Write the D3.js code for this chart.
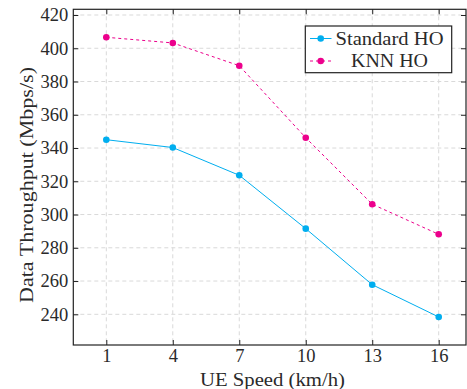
<!DOCTYPE html>
<html>
<head>
<meta charset="utf-8">
<script src="https://cdn.jsdelivr.net/npm/d3@7"></script>
<style>
    body { margin: 0; background: #fff; }
    svg text { font-family: "Liberation Serif", "DejaVu Serif", serif !important; fill: #2a2a2a; }
</style>
</head>
<body>
<div id="chart"></div>
<script>
var speeds = [1, 4, 7, 10, 13, 16];
var standardHO = [345, 340.3, 323.6, 291.5, 257.8, 238.4];
var knnHO = [406.6, 403.2, 389.5, 346.2, 306.2, 288.1];
var yTicks = [240, 260, 280, 300, 320, 340, 360, 380, 400, 420];
var seriesNames = ["Standard HO", "KNN HO"];

function init ()
{
    var w = 467;
    var h = 389;
    var left = 73.3, right = 466, top = 9.3, bottom = 345;
    var fontSize = 18.5;
    var serif = "'Liberation Serif', 'DejaVu Serif', serif";
    var cyan = "#00AEEF";
    var magenta = "#EC008C";

    var svg = d3.select("#chart")
        .append("svg")
        .attr("width", w)
        .attr("height", h)
        .style("font-family", serif);

    var xScale = d3.scaleLinear()  //x position of speeds
        .domain([1, 16])
        .range([106.3, 438.7]);

    var yScale = d3.scaleLinear()  //throughput
        .domain([240, 420])
        .range([314.3, 15]);

    // dashed grid
    svg.append("g")
        .selectAll("line")
        .data(speeds)
        .enter()
        .append("line")
        .attr("x1", function(d) { return xScale(d); })
        .attr("x2", function(d) { return xScale(d); })
        .attr("y1", top)
        .attr("y2", bottom)
        .attr("stroke", "#d9d9d9")
        .attr("stroke-dasharray", "4,3");

    svg.append("g")
        .selectAll("line")
        .data(yTicks)
        .enter()
        .append("line")
        .attr("x1", left)
        .attr("x2", right)
        .attr("y1", function(d) { return yScale(d); })
        .attr("y2", function(d) { return yScale(d); })
        .attr("stroke", "#d9d9d9")
        .attr("stroke-dasharray", "4,3");

    // axes, ticks pointing inward
    var xAxis = d3.axisBottom(xScale)
        .tickValues(speeds)
        .tickSize(-5)
        .tickPadding(3.5);
    var yAxis = d3.axisLeft(yScale)
        .tickValues(yTicks)
        .tickSize(-5)
        .tickPadding(5);

    svg.append("g")
        .attr("transform", "translate(0," + bottom + ")")
        .call(xAxis);
    svg.append("g")
        .attr("transform", "translate(" + left + ",0)")
        .call(yAxis);

    svg.append("g")
        .attr("transform", "translate(0," + top + ")")
        .call(d3.axisTop(xScale).tickValues(speeds).tickSize(-5).tickFormat(""));
    svg.append("g")
        .attr("transform", "translate(" + right + ",0)")
        .call(d3.axisRight(yScale).tickValues(yTicks).tickSize(-5).tickFormat(""));

    svg.selectAll(".domain").remove();
    svg.selectAll("g").attr("font-family", serif);
    svg.selectAll(".tick line").attr("stroke", "#222");
    svg.selectAll(".tick text")
        .style("font-size", fontSize + "px");

    // frame
    svg.append("rect")
        .attr("x", left)
        .attr("y", top)
        .attr("width", right - left)
        .attr("height", bottom - top)
        .attr("fill", "none")
        .attr("stroke", "#222")
        .attr("stroke-width", 1.2);

    // lines
    var line = d3.line()
        .x(function(d, i) { return xScale(speeds[i]); })
        .y(function(d) { return yScale(d); });

    svg.append("path")
        .datum(standardHO)
        .attr("d", line)
        .attr("fill", "none")
        .attr("stroke", cyan)
        .attr("stroke-width", 1);

    svg.append("path")
        .datum(knnHO)
        .attr("d", line)
        .attr("fill", "none")
        .attr("stroke", magenta)
        .attr("stroke-width", 1)
        .attr("stroke-dasharray", "3,3");

    svg.append("g")
        .selectAll("circle")
        .data(standardHO)
        .enter()
        .append("circle")
        .attr("cx", function(d, i) { return xScale(speeds[i]); })
        .attr("cy", function(d) { return yScale(d); })
        .attr("r", 3.3)
        .attr("fill", cyan);

    svg.append("g")
        .selectAll("circle")
        .data(knnHO)
        .enter()
        .append("circle")
        .attr("cx", function(d, i) { return xScale(speeds[i]); })
        .attr("cy", function(d) { return yScale(d); })
        .attr("r", 3.3)
        .attr("fill", magenta);

    // axis titles
    svg.append("text")
        .attr("x", 272.5)
        .attr("y", 385.5)
        .attr("text-anchor", "middle")
        .attr("textLength", 145)
        .attr("lengthAdjust", "spacingAndGlyphs")
        .style("font-size", fontSize + "px")
        .text("UE Speed (km/h)");

    svg.append("text")
        .attr("transform", "translate(32.5,185) rotate(-90)")
        .attr("text-anchor", "middle")
        .attr("textLength", 236)
        .attr("lengthAdjust", "spacingAndGlyphs")
        .style("font-size", fontSize + "px")
        .text("Data Throughput (Mbps/s)");

    // legend
    var legend = svg.append("g");
    legend.append("rect")
        .attr("x", 305.3)
        .attr("y", 26)
        .attr("width", 146.4)
        .attr("height", 46.7)
        .attr("fill", "#fff")
        .attr("stroke", "#222")
        .attr("stroke-width", 1.2);

    var colors = [cyan, magenta];
    var dashes = [null, "3,3"];
    var rowY = [38.5, 61];
    var textLen = [108, 77];

    seriesNames.forEach(function(name, i) {
        legend.append("line")
            .attr("x1", 310)
            .attr("x2", 331.5)
            .attr("y1", rowY[i])
            .attr("y2", rowY[i])
            .attr("stroke", colors[i])
            .attr("stroke-dasharray", dashes[i]);
        legend.append("circle")
            .attr("cx", 320.7)
            .attr("cy", rowY[i])
            .attr("r", 3.3)
            .attr("fill", colors[i]);
        legend.append("text")
            .attr("x", 389.5)
            .attr("y", rowY[i] + 6)
            .attr("text-anchor", "middle")
            .attr("textLength", textLen[i])
            .attr("lengthAdjust", "spacingAndGlyphs")
            .style("font-size", fontSize + "px")
            .text(name);
    });
}

window.onload = init;
</script>
</body>
</html>
